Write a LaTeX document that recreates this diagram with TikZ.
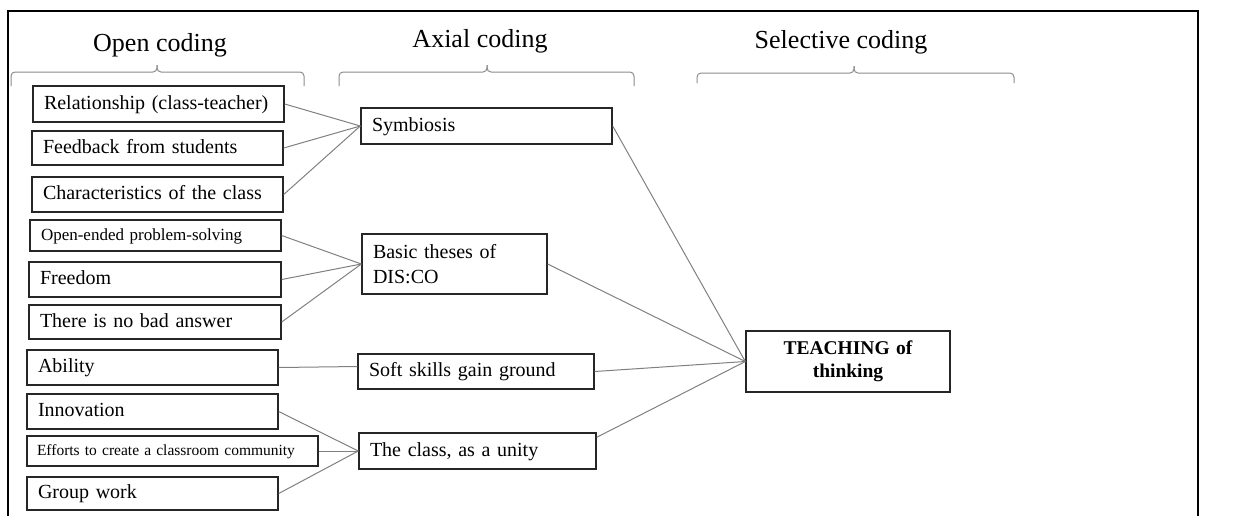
\documentclass[tikz,border=0pt]{standalone}
\usepackage{fontspec}
\setmainfont{Liberation Serif}
\usetikzlibrary{calc}
\begin{document}
\begin{tikzpicture}[x=1pt,y=-1pt,
  boxbase/.style={draw=black!85, line width=1.4pt, inner xsep=11pt, inner ysep=0pt,
    align=left, font=\fontsize{20}{25}\selectfont},
  box/.style={boxbase, text height=14pt, text depth=4pt},
  link/.style={draw=black!50, line width=1pt},
  brace/.style={draw=black!45, line width=1pt, rounded corners=4pt},
  title/.style={font=\fontsize{26}{28}\selectfont, anchor=base}]
\useasboundingbox (0,0) rectangle (1236,515);

% outer frame
\draw[line width=2.5pt] (8,540) -- (8,11) -- (1198,11) -- (1198,540);

% column titles
\node[title] (topen) at (160,51) {Open coding};
\node[title] (taxial) at (480,47) {Axial coding};
\node[title] (tsel) at (841,48) {Selective coding};

% braces under the titles
\draw[brace] (11,86) -- (11,72) -- (157,72) -- (157,65);
\draw[brace] (304,86) -- (304,72) -- (157,72) -- (157,65);
\draw[brace] (339,86) -- (339,72) -- (487,72) -- (487,65);
\draw[brace] (634,86) -- (634,72) -- (487,72) -- (487,65);
\draw[brace] (697,83) -- (697,73) -- (854,73) -- (854,66);
\draw[brace] (1014,83) -- (1014,73) -- (854,73) -- (854,66);

% open codes
\node[box, minimum height=36pt, text width=229pt] (rel) at (158.5,104) {Relationship (class-teacher)};
\node[box, minimum height=34pt, text width=229pt] (feed) at (157.5,148) {Feedback from students};
\node[box, minimum height=35pt, text width=229pt] (char) at (157.5,194.5) {Characteristics of the class};
\node[box, minimum height=31pt, text width=229pt, font=\fontsize{17}{20}\selectfont] (open) at (155.5,235.5) {Open-ended problem-solving};
\node[box, minimum height=35pt, text width=230pt] (free) at (155,279.5) {Freedom};
\node[box, minimum height=34pt, text width=230pt] (nobad) at (155,322) {There is no bad answer};
\node[box, minimum height=35pt, text width=229pt] (abil) at (152.5,367.5) {Ability};
\node[box, minimum height=35pt, text width=229pt] (innov) at (152.5,411.5) {Innovation};
\node[boxbase, minimum height=30pt, text width=271pt, inner xsep=10pt, text height=12pt, text depth=3pt, font=\fontsize{15.5}{19}\selectfont] (eff) at (172.5,451) {Efforts to create a classroom community};
\node[box, minimum height=33pt, text width=229pt] (group) at (152.5,493.5) {Group work};

% axial codes
\node[box, minimum height=36pt, text width=229pt] (sym) at (486.5,126) {Symbiosis};
\node[boxbase, minimum height=60pt, text width=163pt] (basic) at (454.5,264) {Basic theses of\\DIS:CO};
\node[box, minimum height=35pt, text width=214pt] (soft) at (476,371.5) {Soft skills gain ground};
\node[box, minimum height=36pt, text width=215pt] (cls) at (477.5,451) {The class, as a unity};

% selective code
\node[boxbase, minimum height=61pt, text width=182pt, align=center,
  font=\fontsize{19.5}{23}\selectfont\bfseries] (teach) at (848,361.5) {TEACHING of\\thinking};

% open -> axial
\draw[link] (rel.east) -- (sym.west);
\draw[link] (feed.east) -- (sym.west);
\draw[link] (char.east) -- (sym.west);
\draw[link] (open.east) -- (basic.west);
\draw[link] (free.east) -- (basic.west);
\draw[link] (nobad.east) -- (basic.west);
\draw[link] (abil.east) -- ([yshift=5pt]soft.west);
\draw[link] (innov.east) -- (cls.west);
\draw[link] (eff.east) -- (cls.west);
\draw[link] (group.east) -- (cls.west);

% axial -> selective
\draw[link] (sym.east) -- (teach.west);
\draw[link] (basic.east) -- (teach.west);
\draw[link] (soft.east) -- (teach.west);
\draw[link] ([yshift=-5pt]cls.north east) -- (teach.west);
\end{tikzpicture}
\end{document}
